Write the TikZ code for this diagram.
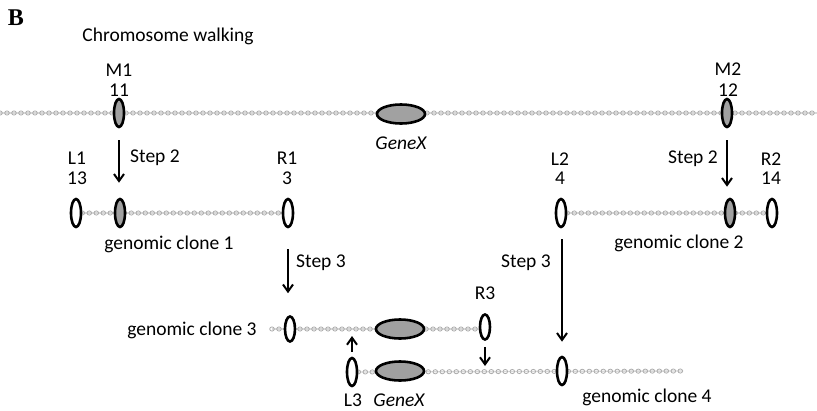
\documentclass[tikz,border=0pt]{standalone}
\usepackage{fontspec}
\setmainfont{Carlito}
\newfontfamily\serifb{Liberation Serif}
\usetikzlibrary{shapes.geometric,arrows.meta,decorations.markings,backgrounds}
\begin{document}
\begin{tikzpicture}[x=1pt,y=-1pt,
  lbl/.style={inner sep=0pt,font=\fontsize{19.5}{22}\selectfont},
  ilbl/.style={lbl,font=\fontsize{19.5}{22}\selectfont\itshape},
  probe/.style={ellipse,draw=black,line width=2.6pt,fill=white,minimum width=10pt,minimum height=28pt,inner sep=0pt},
  marker/.style={probe,fill=gray!95!black!70},
  gene/.style={ellipse,draw=black,line width=2.6pt,fill=gray!95!black!70,minimum width=48pt,minimum height=19pt,inner sep=0pt},
  chrom/.style={draw=gray!30,line width=1.4pt,postaction={decorate,decoration={markings,
     mark=between positions 0 and 1 step 7pt with {\draw[gray!65,line width=0.8pt] (0,0) ellipse (2.3pt and 2.1pt);}}}},
  arr/.style={-{Straight Barb[length=7pt,width=10pt,line width=2pt]},line width=2.1pt}]
\useasboundingbox (0,0) rectangle (817,410);
% titles
\node[inner sep=0pt,font=\serifb\bfseries\fontsize{24}{26}\selectfont] (B) at (16,18) {B};
\node[lbl] (title) at (168,36) {Chromosome walking};
% top chromosome
\coordinate (topL) at (0,113);
\coordinate (topR) at (817,113);
\node[marker] (M1) at (119,113) {};
\node[gene] (G0) at (401,114) {};
\node[marker] (M2) at (727,113) {};
\node[lbl] (M1t) at (119,70) {M1};
\node[lbl] (M1n) at (119,90) {11};
\node[lbl] (M2t) at (728,69) {M2};
\node[lbl] (M2n) at (728,90) {12};
\node[ilbl] (G0t) at (401,143) {GeneX};
% clone 1
\node[probe] (L1) at (76,213) {};
\node[marker] (C1M) at (120,213) {};
\node[probe] (R1) at (288,213) {};
\node[lbl] (L1t) at (77,158) {L1};
\node[lbl] (L1n) at (77,178) {13};
\node[lbl] (R1t) at (287,158) {R1};
\node[lbl] (R1n) at (287,178) {3};
\node[lbl] (S2a) at (155,158) {Step 2};
\node[lbl] (gc1) at (169,244) {genomic clone 1};
% clone 2
\node[probe] (L2) at (561,213) {};
\node[marker] (C2M) at (730,213) {};
\node[probe] (R2) at (772,213) {};
\node[lbl] (L2t) at (560,159) {L2};
\node[lbl] (L2n) at (560,178) {4};
\node[lbl] (R2t) at (771,159) {R2};
\node[lbl] (R2n) at (771,178) {14};
\node[lbl] (S2b) at (693,159) {Step 2};
\node[lbl] (gc2) at (679,243) {genomic clone 2};
% clone 3
\coordinate (c3start) at (272,329);
\node[probe,minimum height=25pt] (C3L) at (290,329) {};
\node[gene] (G3) at (400,329) {};
\node[probe,minimum height=25pt] (R3) at (485,327) {};
\node[lbl] (R3t) at (485,293) {R3};
\node[lbl] (gc3) at (192,330) {genomic clone 3};
\node[lbl] (S3a) at (321,263) {Step 3};
\node[lbl] (S3b) at (526,263) {Step 3};
% clone 4
\node[probe] (L3) at (352,372) {};
\node[gene] (G4) at (400,371) {};
\node[probe] (C4) at (562,371) {};
\coordinate (c4end) at (683,371);
\node[lbl] (L3t) at (353,400) {L3};
\node[ilbl] (G4t) at (399,400) {GeneX};
\node[lbl] (gc4) at (647,397) {genomic clone 4};
\coordinate (up) at (352,336);
\coordinate (down) at (485,366);
% chromosome lines
\begin{pgfonlayer}{background}
\draw[chrom] (topL) -- (topR);
\draw[chrom] (L1) -- (R1);
\draw[chrom] (L2) -- (R2);
\draw[chrom] (c3start) -- (R3.center |- c3start);
\draw[chrom] (L3) -- (c4end);
\end{pgfonlayer}
% arrows
\draw[arr,shorten <=12pt,shorten >=15pt] (M1.south) -- (M1.south |- C1M.north);
\draw[arr,shorten <=12pt,shorten >=11pt] (M2.south) -- (M2.south |- C2M.north);
\draw[arr,shorten <=21pt,shorten >=22pt] (R1.south) -- (R1.south |- C3L.north);
\draw[arr,shorten <=11pt,shorten >=14pt] (C4.north |- L2.south) -- (C4.north);
\draw[arr,shorten <=5pt] (L3.north) -- (up);
\draw[arr,shorten <=6pt] (R3.south) -- (down);
\end{tikzpicture}
\end{document}
